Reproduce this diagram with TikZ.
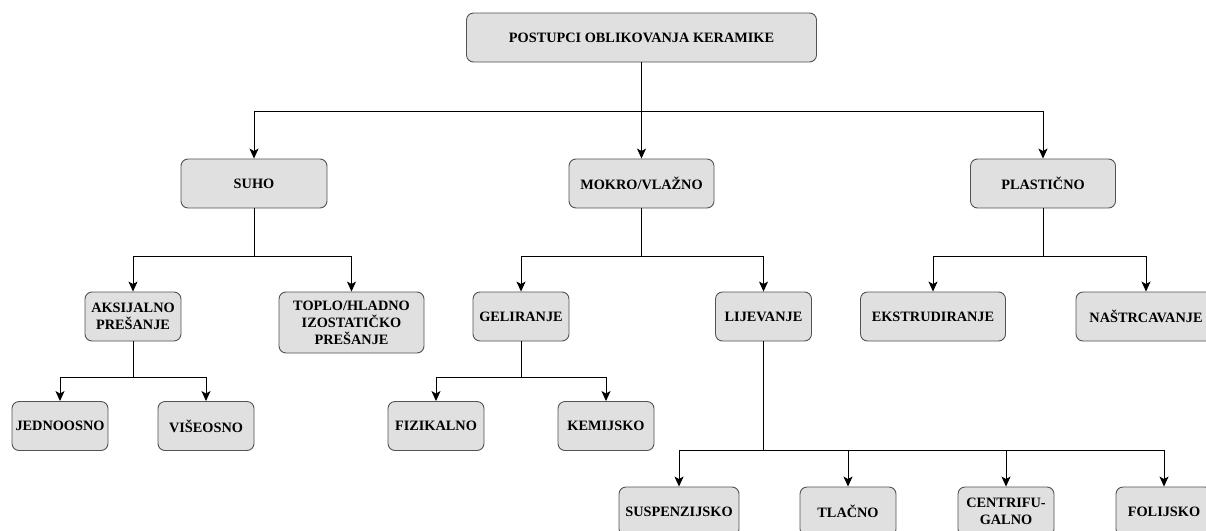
\documentclass[tikz,border=0pt]{standalone}
\usepackage{fontspec}
\setmainfont{Liberation Serif}
\usetikzlibrary{arrows.meta}

\tikzset{
  box/.style={draw=black!68, fill=black!12, line width=0.9pt, rounded corners=7pt,
    minimum width=96pt, minimum height=49pt, inner sep=0pt, align=center,
    font=\bfseries\fontsize{14.3}{17}\selectfont},
  line/.style={line width=1pt},
  arr/.style={line, -{Stealth[length=10pt,width=9pt,inset=2.5pt]}},
}

\begin{document}
\begin{tikzpicture}[x=1pt,y=-1pt]
  \clip (0,0) rectangle (1206,530);

  % root and first level
  \node[box, minimum width=350pt] (root) at (641.5,37.5) {POSTUPCI OBLIKOVANJA KERAMIKE};
  \node[box, minimum width=146pt] (suho) at (254,183.5) {SUHO};
  \node[box, minimum width=145pt] (mokro) at (641.5,183.5) {MOKRO/VLAŽNO};
  \node[box, minimum width=145pt] (plast) at (1043,183.5) {PLASTIČNO};

  % second level
  \node[box] (aksi) at (133,316.5) {AKSIJALNO\\PREŠANJE};
  \node[box, minimum width=145pt, minimum height=61pt] (izo) at (351.5,322.5) {TOPLO/HLADNO\\IZOSTATIČKO\\PREŠANJE};
  \node[box] (gel) at (521,316.5) {GELIRANJE};
  \node[box] (lij) at (763.5,316.5) {LIJEVANJE};
  \node[box, minimum width=145pt] (ekst) at (933,316.5) {EKSTRUDIRANJE};
  \node[box, minimum width=140pt] (nast) at (1146,316.5) {NAŠTRCAVANJE};

  % third level
  \node[box] (jedn) at (60,426) {JEDNOOSNO};
  \node[box] (vise) at (206,426) {VIŠEOSNO};
  \node[box] (fiz) at (436,426) {FIZIKALNO};
  \node[box] (kem) at (606,426) {KEMIJSKO};

  % casting methods
  \node[box, minimum width=120pt] (susp) at (679,511.5) {SUSPENZIJSKO};
  \node[box] (tlac) at (848,511.5) {TLAČNO};
  \node[box] (cent) at (1006,511.5) {CENTRIFU-\\GALNO};
  \node[box] (foli) at (1164,511.5) {FOLIJSKO};

  % branch points
  \coordinate (b1) at (641.5,111);
  \coordinate (b2) at (254,256);
  \coordinate (b3) at (641.5,256);
  \coordinate (b4) at (1043,256);
  \coordinate (b5) at (133,377);
  \coordinate (b6) at (521,377);
  \coordinate (b7) at (763.5,450);

  \draw[arr] (root.south) -- (mokro.north);
  \foreach \c in {suho,plast} \draw[arr] (b1) -| (\c.north);

  \draw[line] (suho.south) -- (b2);
  \foreach \c in {aksi,izo} \draw[arr] (b2) -| (\c.north);

  \draw[line] (mokro.south) -- (b3);
  \foreach \c in {gel,lij} \draw[arr] (b3) -| (\c.north);

  \draw[line] (plast.south) -- (b4);
  \foreach \c in {ekst,nast} \draw[arr] (b4) -| (\c.north);

  \draw[line] (aksi.south) -- (b5);
  \foreach \c in {jedn,vise} \draw[arr] (b5) -| (\c.north);

  \draw[line] (gel.south) -- (b6);
  \foreach \c in {fiz,kem} \draw[arr] (b6) -| (\c.north);

  \draw[line] (lij.south) -- (b7);
  \foreach \c in {susp,tlac,cent,foli} \draw[arr] (b7) -| (\c.north);
\end{tikzpicture}
\end{document}
